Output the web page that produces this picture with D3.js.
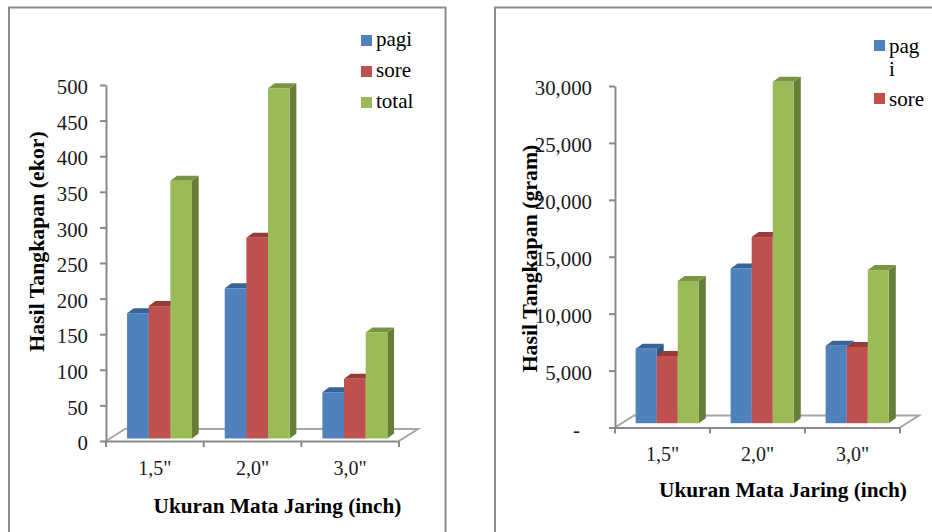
<!DOCTYPE html>
<html>
<head>
<meta charset="utf-8">
<script src="https://cdn.jsdelivr.net/npm/d3@7"></script>
<style>
  body { margin: 0; background: #fff; }
  svg { display: block; }
  text { font-family: "Liberation Serif", serif; fill: #1a1a1a; }
  .axis path, .axis line { stroke: #898989; stroke-width: 2px; }
  .axis text { font-size: 20px; }
  .yaxis text { font-size: 20.8px; }
  .label { font-size: 21.3px; font-weight: bold; fill: #000; }
  .ylabel { font-size: 21.8px; }
  .legend { font-size: 21px; fill: #000; }
</style>
</head>
<body>
<script>
var categories = ['1,5"', '2,0"', '3,0"'];
var seriesNames = ["pagi", "sore", "total"];

// ekor
var pagiEkor = [176, 211, 65];
var soreEkor = [186, 282, 84];
var totalEkor = [362, 492, 149];
var ticksEkor = [0, 50, 100, 150, 200, 250, 300, 350, 400, 450, 500];

// gram
var pagiGram = [6550, 13600, 6800];
var soreGram = [5900, 16350, 6700];
var totalGram = [12500, 30000, 13450];
var ticksGram = [0, 5000, 10000, 15000, 20000, 25000, 30000];

var colors = { pagi: "#4f81bd", sore: "#c0504d", total: "#9bbb59" };
var tops = { pagi: "#386396", sore: "#953c39", total: "#7a9446" };
var sides = { pagi: "#2f5482", sore: "#7f3230", total: "#677e39" };

var svg = d3.select("body").append("svg")
    .attr("width", 932)
    .attr("height", 532);

function plot_chart(values, ticks, tickFormat, ylabel, m) {

    // panel border, runs off the page like the reference
    svg.append("rect")
        .attr("x", m.panel[0])
        .attr("y", 7.5)
        .attr("width", m.panel[1] - m.panel[0])
        .attr("height", 600)
        .attr("fill", "none")
        .attr("stroke", "#8c8c8c")
        .attr("stroke-width", 2);

    var x = d3.scaleBand().domain(categories).range([m.x0, m.x1]).paddingInner(0.335).paddingOuter(0.1675);
    var inner = d3.scaleBand().domain(seriesNames).range([0, x.bandwidth()]);
    var y = d3.scaleLinear().domain([0, ticks[ticks.length - 1]]).range([m.y0, m.y1]);

    // floor of the 3d box
    var floor = d3.path();
    floor.moveTo(m.x0, m.y0);
    floor.lineTo(m.x0 + m.floorDx, m.y0 - m.floorDy);
    floor.lineTo(m.x1 + m.floorDx, m.y0 - m.floorDy);
    floor.lineTo(m.x1, m.y0);
    svg.append("path")
        .attr("d", floor.toString())
        .attr("fill", "none")
        .attr("stroke", "#a6a6a6")
        .attr("stroke-width", 2);

    // y axis
    var y_axis = d3.axisLeft(y).tickValues(ticks).tickFormat(tickFormat).tickSize(6).tickSizeOuter(0).tickPadding(m.tickPad);
    var gy = svg.append("g")
        .attr("class", "axis yaxis")
        .attr("transform", "translate(" + m.x0 + ",0)")
        .call(y_axis);
    gy.selectAll("text").attr("dy", "0.42em");
    gy.selectAll("text").filter(function(d) { return d === 0 && m.dash; }).attr("dx", -12);

    // x axis, ticks sit between the categories
    var x_axis = d3.axisBottom(x).tickSize(0).tickPadding(m.xPad).tickSizeOuter(0);
    var gx = svg.append("g")
        .attr("class", "axis")
        .attr("transform", "translate(0," + m.y0 + ")")
        .call(x_axis);
    gx.selectAll(".edge")
        .data(d3.range(categories.length + 1))
        .enter().append("line")
        .attr("class", "edge")
        .attr("x1", function(i) { return m.x0 + i * x.step(); })
        .attr("x2", function(i) { return m.x0 + i * x.step(); })
        .attr("y1", 0)
        .attr("y2", 6);

    // bars
    seriesNames.forEach(function(name, s) {
        var g = svg.append("g").attr("class", "series-" + name);
        values[s].forEach(function(v, c) {
            var left = x(categories[c]) + m.shift + inner(name);
            var w = inner.bandwidth();
            var top = y(v) - m.lift;
            var base = y(0) - m.lift;

            g.append("path")
                .attr("d", "M" + (left + w) + "," + top + "l" + m.dx + "," + (-m.dy) + "V" + (base - m.dy) + "l" + (-m.dx) + "," + m.dy + "Z")
                .attr("fill", sides[name]);
            g.append("path")
                .attr("d", "M" + left + "," + top + "l" + m.dx + "," + (-m.dy) + "h" + w + "l" + (-m.dx) + "," + m.dy + "Z")
                .attr("fill", tops[name]);
            g.append("rect")
                .attr("x", left)
                .attr("y", top)
                .attr("width", w)
                .attr("height", base - top)
                .attr("fill", colors[name]);
        });
    });

    // axis labels
    svg.append("text")
        .attr("class", "label ylabel")
        .attr("transform", "translate(" + m.ylabelX + "," + m.ylabelY + ") rotate(-90)")
        .attr("text-anchor", "middle")
        .text(ylabel);

    svg.append("text")
        .attr("class", "label")
        .attr("x", m.xlabelX)
        .attr("y", m.xlabelY)
        .attr("text-anchor", "middle")
        .text("Ukuran Mata Jaring (inch)");
}

function legend_item(name, lines, swatchX, swatchY, textX, baselines) {
    svg.append("rect")
        .attr("x", swatchX)
        .attr("y", swatchY)
        .attr("width", 11)
        .attr("height", 11)
        .attr("fill", colors[name]);
    lines.forEach(function(line, i) {
        svg.append("text")
            .attr("class", "legend")
            .attr("x", textX)
            .attr("y", baselines[i])
            .text(line);
    });
}

plot_chart([pagiEkor, soreEkor, totalEkor], ticksEkor, d3.format("d"), "Hasil Tangkapan (ekor)", {
    panel: [9, 445.5],
    x0: 106, x1: 399, y0: 441, y1: 85,
    floorDx: 19, floorDy: 12,
    dx: 6.7, dy: 5, lift: 2.5, shift: 4.7,
    tickPad: 12, xPad: 20,
    ylabelX: 44, ylabelY: 241.5,
    xlabelX: 277.5, xlabelY: 513
});

plot_chart([pagiGram, soreGram, totalGram], ticksGram, function(d) { return d === 0 ? "-" : d3.format(",")(d); }, "Hasil Tangkapan (gram)", {
    panel: [495, 1000],
    x0: 615, x1: 900, y0: 427.5, y1: 86,
    floorDx: 19, floorDy: 12,
    dx: 7, dy: 5, lift: 4.3, shift: 4.7,
    tickPad: 17, dash: true, xPad: 19,
    ylabelX: 537, ylabelY: 258.5,
    xlabelX: 783, xlabelY: 497
});

legend_item("pagi", ["pagi"], 361, 35, 376, [46]);
legend_item("sore", ["sore"], 361, 66, 376, [77]);
legend_item("total", ["total"], 361, 97, 376, [108]);

legend_item("pagi", ["pag", "i"], 874, 40, 889, [53, 76]);
legend_item("sore", ["sore"], 874, 93, 889, [106]);
</script>
</body>
</html>
